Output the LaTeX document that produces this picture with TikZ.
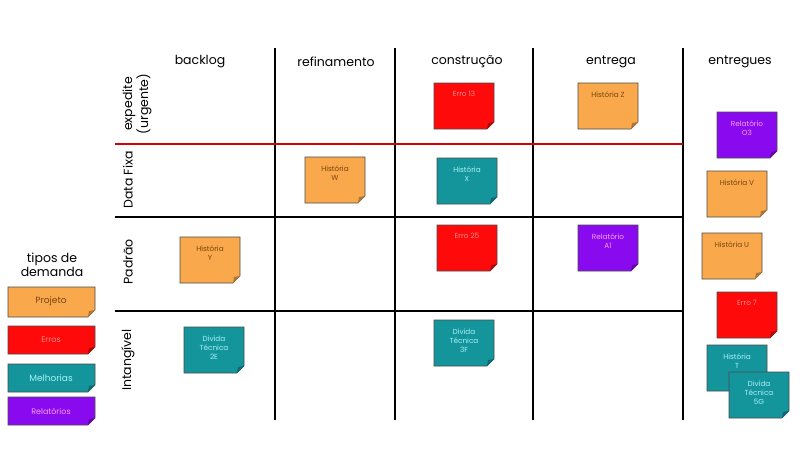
\documentclass[tikz,border=0pt]{standalone}
\usepackage{fontspec}
\setmainfont{Poppins}
\definecolor{cO}{HTML}{F9A84B}\definecolor{tO}{HTML}{7A4510}
\definecolor{cR}{HTML}{FF0A0A}\definecolor{tR}{HTML}{FF8C8C}
\definecolor{cT}{HTML}{14959C}\definecolor{tT}{HTML}{A8F2F6}
\definecolor{cP}{HTML}{8A0AF0}\definecolor{tP}{HTML}{F7A0F2}
\newcommand\mynote[8]{%
 \fill[#6] (#2,#3) -- (#4,#3) -- (#4,#5-7) -- (#4-7,#5) -- (#2,#5) -- cycle;
 \draw[black!70,line width=0.6pt] (#2,#3) -- (#4,#3) -- (#4,#5-7) -- (#4-7,#5) -- (#2,#5) -- cycle;
 \fill[#6!70!black] (#4,#5-7) -- (#4-7,#5) -- (#4-6,#5-6) -- cycle;
 \node[font=\fontsize{7.3}{9}\selectfont,text=#7,align=center,anchor=north] (#1) at ({(#2+#4)/2},#3+5) {#8};}
\begin{document}
\begin{tikzpicture}[x=1pt,y=-1pt,hdr/.style={font=\fontsize{12.5}{14}\selectfont},rl/.style={font=\fontsize{12.5}{13}\selectfont,rotate=90,align=center}]
\useasboundingbox (0,0) rectangle (800,452);
\fill[white] (0,0) rectangle (800,452);
\foreach \x/\n in {275/v1,395/v2,533/v3,683/v4}{\coordinate (\n a) at (\x,48);\coordinate (\n b) at (\x,420);\draw[line width=2pt] (\n a) -- (\n b);}
\coordinate (h0a) at (115,144);\coordinate (h0b) at (683,144);
\draw[red!85!black,line width=1.8pt] (h0a) -- (h0b);
\foreach \y/\n in {217/h1,311/h2}{\coordinate (\n a) at (115,\y);\coordinate (\n b) at (683,\y);\draw[line width=2pt] (\n a) -- (\n b);}
\node[hdr] (c1) at (200,62) {backlog};
\node[hdr] (c2) at (336,62) {refinamento};
\node[hdr] (c3) at (467,62) {construção};
\node[hdr] (c4) at (611,62) {entrega};
\node[hdr] (c5) at (740,62) {entregues};
\node[rl] (r1) at (137,104) {expedite\\(urgente)};
\node[rl] (r2) at (128,180) {Data Fixa};
\node[rl] (r3) at (128,262) {Padrão};
\node[rl] (r4) at (128,360) {Intangível};
\mynote{n1}{434}{83}{494}{129}{cR}{tR}{Erro 13}
\mynote{n2}{578}{83}{638}{129}{cO}{tO}{História Z}
\mynote{n3}{717}{112}{777}{158}{cP}{tP}{Relatório\\O3}
\mynote{n4}{305}{157}{365}{203}{cO}{tO}{História\\W}
\mynote{n5}{437}{158}{497}{204}{cT}{tT}{História\\X}
\mynote{n6}{707}{171}{767}{217}{cO}{tO}{História V}
\mynote{n7}{180}{237}{240}{283}{cO}{tO}{História\\Y}
\mynote{n8}{437}{225}{497}{271}{cR}{tR}{Erro 25}
\mynote{n9}{578}{225}{638}{271}{cP}{tP}{Relatório\\A1}
\mynote{n10}{702}{233}{762}{279}{cO}{tO}{História U}
\mynote{n11}{717}{292}{777}{338}{cR}{tR}{Erro 7}
\mynote{n12}{184}{327}{244}{373}{cT}{tT}{Divida\\Técnica\\2E}
\mynote{n13}{434}{320}{494}{366}{cT}{tT}{Divida\\Técnica\\3F}
\mynote{n14}{707}{345}{767}{391}{cT}{tT}{História\\T}
\mynote{n15}{729}{372}{789}{418}{cT}{tT}{Divida\\Técnica\\5G}
\node[font=\fontsize{12.5}{14}\selectfont,align=center] (lg) at (52,265) {tipos de\\demanda};
\mynote{l1}{8}{287}{95}{317}{cO}{tO}{}
\node[font=\fontsize{9}{10}\selectfont,text=tO] (l1t) at (51,301) {Projeto};
\mynote{l2}{8}{326}{95}{354}{cR}{tR}{}
\node[font=\fontsize{8}{9}\selectfont,text=tR] (l2t) at (51,340) {Erros};
\mynote{l3}{8}{364}{95}{392}{cT}{tT}{}
\node[font=\fontsize{9}{10}\selectfont,text=tT] (l3t) at (51,378) {Melhorias};
\mynote{l4}{8}{397}{95}{425}{cP}{tP}{}
\node[font=\fontsize{8}{9}\selectfont,text=tP] (l4t) at (51,411) {Relatórios};
\end{tikzpicture}
\end{document}
